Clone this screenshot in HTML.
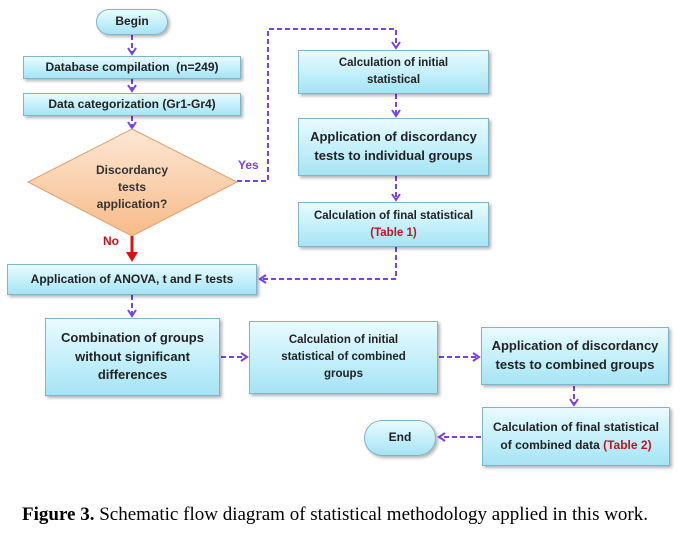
<!DOCTYPE html>
<html><head><meta charset="utf-8"><style>
body{margin:0;background:#fff;width:680px;height:533px;position:relative;overflow:hidden;font-family:"Liberation Sans",sans-serif}
.b{position:absolute;box-sizing:border-box;border:1px solid #7fb5cc;background:linear-gradient(#e8fbff,#bfeefa 60%,#a6e3f3);box-shadow:2px 2px 3px rgba(0,0,0,.3);display:flex;align-items:center;justify-content:center;text-align:center;font-size:12px;font-weight:bold;color:#222;line-height:1.45}
.b>div{width:100%}
.r{border-radius:14px}
.red{color:#c0141e}
svg{position:absolute;left:0;top:0}
.cap{position:absolute;left:22px;top:504px;font-family:"Liberation Serif",serif;font-size:19px;color:#000;white-space:nowrap}
</style></head><body>
<svg width="680" height="533">
<defs><marker id="a" markerUnits="userSpaceOnUse" markerWidth="10" markerHeight="10" refX="7" refY="5" orient="auto"><path d="M1,1 L7,5 L1,9" fill="none" stroke="#7a3ff0" stroke-width="2"/></marker>
<linearGradient id="g" x1="0" y1="0" x2="0" y2="1"><stop offset="0" stop-color="#fde7d4"/><stop offset="1" stop-color="#f7bb88"/></linearGradient></defs>
<g stroke="#7a3ff0" stroke-width="2" stroke-dasharray="5,3" fill="none" marker-end="url(#a)">
<line x1="132" y1="35" x2="132" y2="54"/>
<line x1="132" y1="79" x2="132" y2="91"/>
<line x1="132" y1="116" x2="132" y2="128"/>
<polyline points="237,181 268,181 268,29 396,29 396,48"/>
<line x1="396" y1="94" x2="396" y2="116"/>
<line x1="396" y1="176" x2="396" y2="200"/>
<polyline points="396,247 396,279 260,279"/>
<line x1="132" y1="295" x2="132" y2="316"/>
<line x1="221" y1="357" x2="247" y2="357"/>
<line x1="439" y1="357" x2="479" y2="357"/>
<line x1="574" y1="386" x2="574" y2="405"/>
<line x1="481" y1="437" x2="439" y2="437"/>
</g>
<polygon points="132,129 237,182 132,236 28,182" fill="url(#g)" stroke="#e0a070" stroke-width="1"/>
<line x1="132" y1="236" x2="132" y2="254" stroke="#e01010" stroke-width="3"/>
<path d="M126,252 L132,262 L138,252 Z" fill="#e01010"/>
<text x="132" y="174" font-size="12" font-weight="bold" text-anchor="middle" fill="#333">Discordancy</text>
<text x="132" y="191" font-size="12" font-weight="bold" text-anchor="middle" fill="#333">tests</text>
<text x="132" y="208" font-size="12" font-weight="bold" text-anchor="middle" fill="#333">application?</text>
<text x="238" y="169" font-size="12" font-weight="bold" fill="#7a3ff0">Yes</text>
<text x="103" y="245" font-size="12" font-weight="bold" fill="#d01010">No</text>
</svg>
<div class="b r" style="left:96px;top:9px;width:72px;height:26px">Begin</div>
<div class="b" style="left:23px;top:56px;width:218px;height:23px">Database compilation&nbsp; (n=249)</div>
<div class="b" style="left:23px;top:93px;width:218px;height:23px">Data categorization (Gr1-Gr4)</div>
<div class="b" style="left:298px;top:50px;width:191px;height:44px;font-size:11.5px"><div>Calculation of initial<br>statistical</div></div>
<div class="b" style="left:298px;top:118px;width:191px;height:58px;font-size:13px"><div>Application of discordancy<br>tests to individual groups</div></div>
<div class="b" style="left:298px;top:202px;width:191px;height:45px;font-size:11.5px"><div>Calculation of final statistical<br><span class="red">(Table 1)</span></div></div>
<div class="b" style="left:7px;top:264px;width:250px;height:31px">Application of ANOVA, t and F tests</div>
<div class="b" style="left:45px;top:318px;width:175px;height:78px;font-size:13px"><div>Combination of groups<br>without significant<br>differences</div></div>
<div class="b" style="left:249px;top:321px;width:189px;height:73px;font-size:11.5px"><div>Calculation of initial<br>statistical of combined<br>groups</div></div>
<div class="b" style="left:481px;top:327px;width:188px;height:58px;font-size:13px"><div>Application of discordancy<br>tests to combined groups</div></div>
<div class="b" style="left:482px;top:407px;width:188px;height:59px;font-size:12px"><div>Calculation of final statistical<br>of combined data <span class="red">(Table 2)</span></div></div>
<div class="b r" style="left:364px;top:420px;width:72px;height:36px;border-radius:18px">End</div>
<div class="cap"><b>Figure 3.</b> Schematic flow diagram of statistical methodology applied in this work.</div>
</body></html>
